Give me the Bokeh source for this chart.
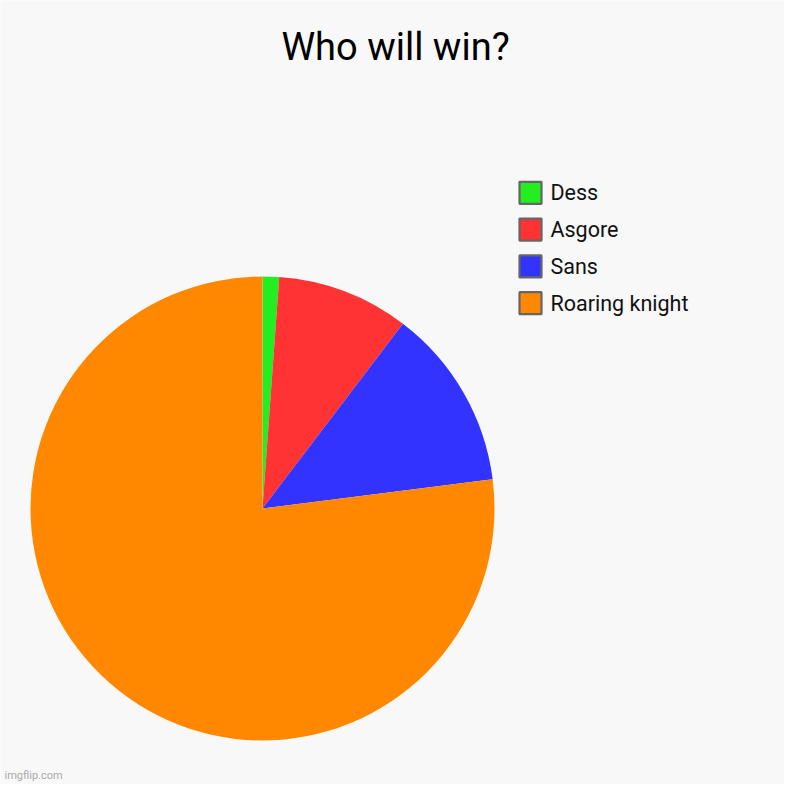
import math
from bokeh.plotting import figure
from bokeh.models import ColumnDataSource, Range1d
from bokeh.core.properties import value
from bokeh.embed import file_html
from bokeh.resources import INLINE

title = "Who will win?"
labels = ["Dess", "Asgore", "Sans", "Roaring knight"]
counts = [1, 8, 11, 67]
colors = ["#22ee22", "#ff3333", "#3333ff", "#ff8800"]

W = H = 784
p = figure(width=W, height=H, output_backend="svg", toolbar_location=None,
           x_range=Range1d(0, W), y_range=Range1d(0, H), min_border=0,
           background_fill_color="#f8f8f8", border_fill_color="#f8f8f8",
           outline_line_color=None)
p.axis.visible = False
p.grid.visible = False

def X(px):
    return px

def Y(py):
    return H - py

total = sum(counts)
starts, ends = [], []
acc = 0.0
for c in counts:
    a0 = math.pi / 2 - 2 * math.pi * acc / total
    acc += c
    a1 = math.pi / 2 - 2 * math.pi * acc / total
    starts.append(a0)
    ends.append(a1)

src = ColumnDataSource(dict(label=labels, count=counts, color=colors,
                            start=starts, end=ends))
p.wedge(x=X(262), y=Y(508), radius=232, start_angle="start", end_angle="end",
        direction="clock", fill_color="color", line_color=None, source=src)

# title
p.text(x=[X(395)], y=[Y(46)], text=[title], text_font=value("Roboto"),
       text_font_size="38px", text_align="center", text_baseline="middle",
       text_color="#000000")

# legend
n = len(labels)
box_y = [Y(192.3 + 36.8 * i) for i in range(n)]
p.rect(x=[X(530)] * n, y=box_y, width=22, height=22, width_units="screen",
       height_units="screen", fill_color=colors, line_color="#666666", line_width=2.2)
p.text(x=[X(550)] * n, y=box_y, text=labels, text_font=value("Roboto"),
       text_font_size="21.5px", text_align="left", text_baseline="middle",
       text_color="#111111")

# watermark
p.text(x=[X(4)], y=[Y(775)], text=["imgflip.com"], text_font=value("Roboto"),
       text_font_size="11px", text_align="left", text_baseline="middle",
       text_color="#aaaaaa")

open("out.html", "w").write(file_html(p, INLINE))
